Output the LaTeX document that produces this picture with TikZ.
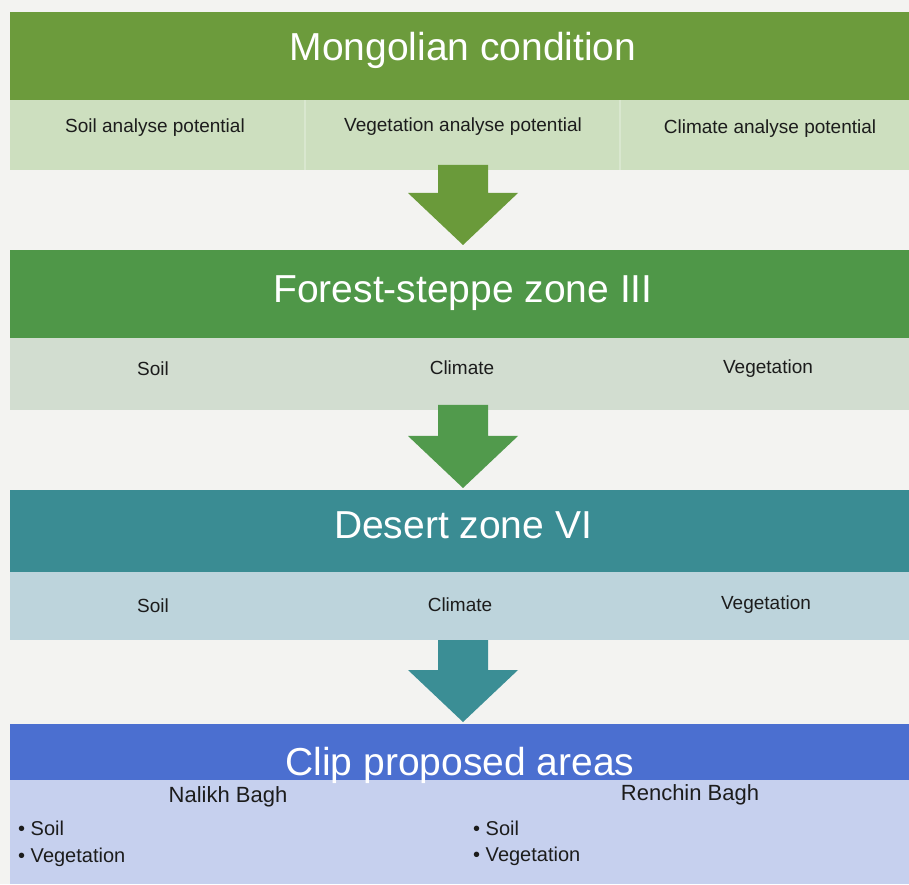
\documentclass[tikz,border=0pt]{standalone}
\usepackage{fontspec}
\setmainfont{Liberation Sans}
\usetikzlibrary{calc}
\definecolor{bgc}{HTML}{F3F3F1}
\definecolor{hA}{HTML}{6C9B3C}
\definecolor{sA}{HTML}{CDDFBF}
\definecolor{hB}{HTML}{4F9748}
\definecolor{sB}{HTML}{D2DDD0}
\definecolor{hC}{HTML}{3A8C93}
\definecolor{sC}{HTML}{BDD4DC}
\definecolor{hD}{HTML}{4B6FD0}
\definecolor{sD}{HTML}{C6D0EE}
\definecolor{aA}{HTML}{6A9A3A}
\definecolor{aB}{HTML}{519A4C}
\definecolor{aC}{HTML}{3B8E95}
\definecolor{txt}{HTML}{1C1C1C}
\tikzset{
  band/.style={rectangle, inner sep=0pt, minimum width=899pt, draw=none},
  title/.style={text=white, font=\fontsize{39}{39}\selectfont, inner sep=0pt},
  subtxt/.style={text=txt, font=\fontsize{19}{19}\selectfont, inner sep=0pt},
  areatxt/.style={text=txt, font=\fontsize{22}{22}\selectfont, inner sep=0pt},
  bullettxt/.style={text=txt, font=\fontsize{20}{20}\selectfont, inner sep=0pt, anchor=west},
}
\newcommand{\flowarrow}[3]{%
  \fill[#1] let \p1=(#2), \p2=(#3) in
    (\x1-25pt,\y1) -- (\x1+25pt,\y1) -- (\x1+25pt,\y2+52pt) -- (\x1+55pt,\y2+52pt)
    -- (\x2,\y2) -- (\x1-55pt,\y2+52pt) -- (\x1-25pt,\y2+52pt) -- cycle;}
\begin{document}
\begin{tikzpicture}[x=1pt,y=1pt]
\fill[bgc] (0,0) rectangle (909,884);
\useasboundingbox (0,0) rectangle (909,884);
% band 1
\node[band, fill=hA, minimum height=88pt] (h1) at (459.5,828) {};
\node[band, fill=sA, minimum height=70pt] (s1) at (459.5,749) {};
\draw[white, opacity=0.25, line width=1.5pt] (305,714) -- (305,784);
\draw[white, opacity=0.25, line width=1.5pt] (620,714) -- (620,784);
\node[title] (t1) at (463,834) {Mongolian condition};
\node[subtxt] (t1a) at (155,756) {Soil analyse potential};
\node[subtxt] (t1b) at (463,757) {Vegetation analyse potential};
\node[subtxt] (t1c) at (770,755) {Climate analyse potential};
% band 2
\node[band, fill=hB, minimum height=88pt] (h2) at (459.5,590) {};
\node[band, fill=sB, minimum height=72pt] (s2) at (459.5,510) {};
\node[title] (t2) at (463,591) {Forest-steppe zone III};
\node[subtxt] (t2a) at (153,515) {Soil};
\node[subtxt] (t2b) at (462,516) {Climate};
\node[subtxt] (t2c) at (768,515) {Vegetation};
% band 3
\node[band, fill=hC, minimum height=82pt] (h3) at (459.5,353) {};
\node[band, fill=sC, minimum height=68pt] (s3) at (459.5,278) {};
\node[title] (t3) at (463,359) {Desert zone VI};
\node[subtxt] (t3a) at (153,278) {Soil};
\node[subtxt] (t3b) at (460,279) {Climate};
\node[subtxt] (t3c) at (766,279) {Vegetation};
% band 4
\node[band, fill=hD, minimum height=56pt] (h4) at (459.5,132) {};
\node[band, fill=sD, minimum height=104pt] (s4) at (459.5,52) {};
\node[title] (t4) at (460,119) {Clip proposed areas};
\node[areatxt] (n1) at (228,87) {Nalikh Bagh};
\node[areatxt] (n2) at (690,89) {Renchin Bagh};
\node[bullettxt] (b1) at (18,56) {\textbullet\ Soil};
\node[bullettxt] (b2) at (18,27) {\textbullet\ Vegetation};
\node[bullettxt] (b3) at (473,56) {\textbullet\ Soil};
\node[bullettxt] (b4) at (473,28) {\textbullet\ Vegetation};
% arrows
\coordinate (a1t) at (463,719);
\coordinate (a1p) at (463,639);
\coordinate (a2t) at (463,479);
\coordinate (a2p) at (463,396);
\coordinate (a3t) at (463,244);
\coordinate (a3p) at (463,162);
\flowarrow{aA}{a1t}{a1p}
\flowarrow{aB}{a2t}{a2p}
\flowarrow{aC}{a3t}{a3p}
\end{tikzpicture}
\end{document}
